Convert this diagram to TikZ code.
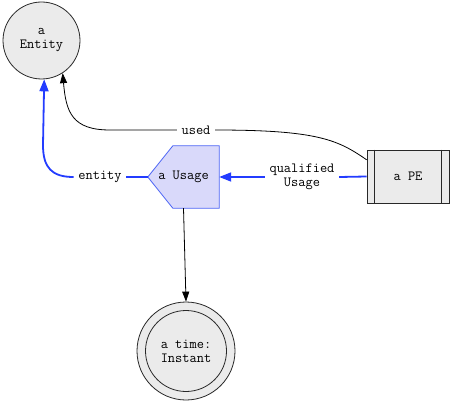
\documentclass[tikz,border=0pt]{standalone}
\usetikzlibrary{arrows.meta,calc}
\definecolor{nodegray}{RGB}{235,235,235}
\definecolor{linegray}{RGB}{40,40,40}
\definecolor{usagefill}{RGB}{217,217,250}
\definecolor{usageline}{RGB}{75,100,245}
\definecolor{edgeblue}{RGB}{35,60,255}
\begin{document}
\begin{tikzpicture}[x=1pt,y=-1pt,
  lbl/.style={font=\ttfamily\fontsize{14}{14}\selectfont,align=center},
  gnode/.style={lbl,draw=linegray,fill=nodegray,line width=0.8pt},
  edgelbl/.style={lbl,fill=white,inner sep=4.5pt},
  blackedge/.style={draw=black,line width=0.8pt},
  blueedge/.style={draw=edgeblue,line width=1.8pt},
  blacktip/.style={-{Triangle[length=10pt,width=7pt]}},
  bluetip/.style={-{Triangle[length=12pt,width=9pt]}}]
\useasboundingbox (0,0) rectangle (450,401);
% nodes
\node[gnode,circle,minimum size=77pt,inner sep=0pt] (Entity) at (41.5,40.5) {a\\Entity};
\node[gnode,rectangle,minimum width=82pt,minimum height=53pt,inner sep=0pt] (PE) at (408,176.5) {a PE};
\draw[linegray,line width=0.8pt] ($(PE.north west)+(8,0)$) -- ($(PE.south west)+(8,0)$)
      ($(PE.north east)+(-8,0)$) -- ($(PE.south east)+(-8,0)$);
\node[lbl,rectangle,minimum width=71pt,minimum height=62pt,inner sep=0pt] (Usage) at (183.5,177) {};
\draw[usageline,fill=usagefill,line width=0.8pt] (Usage.west) -- ($(Usage.north west)+(25,0)$) -- (Usage.north east)
      -- (Usage.south east) -- ($(Usage.south west)+(25,0)$) -- cycle;
\node[lbl] at (Usage.center) {a Usage};
\node[gnode,circle,minimum size=98pt,inner sep=0pt] (Instant) at (186,351) {a time:\\Instant};
\draw[linegray,line width=0.8pt] (Instant.center) circle (40.5pt);
% edge labels
\node[edgelbl] (used) at (196,130) {used};
\node[edgelbl] (entitylbl) at (100,177) {entity};
\node[edgelbl] (qual) at (302,177) {qualified\\Usage};
% edges
\draw[blackedge] (PE.158) .. controls (338,140) and (318,130) .. (used.east);
\draw[blackedge,blacktip] (used.west) -- (110,130) .. controls (72,130) and (66,112) .. (Entity.-57);
\draw[blueedge] (Usage.west) -- (entitylbl.east);
\draw[blueedge,bluetip] (entitylbl.west) .. controls (52,177) and (43,168) .. (43,145) -- (Entity.-86);
\draw[blueedge] (PE.west) -- (qual.east);
\draw[blueedge,bluetip] (qual.west) -- (Usage.east);
\draw[blackedge,blacktip] (Usage.south) -- (Instant.north);
\end{tikzpicture}
\end{document}
